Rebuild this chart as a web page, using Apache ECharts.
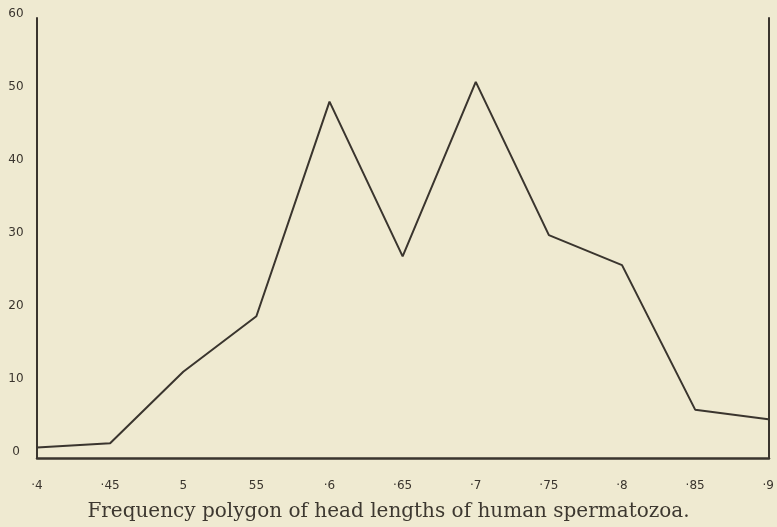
<!DOCTYPE html>
<html>
<head>
<meta charset="utf-8">
<script src="https://cdn.jsdelivr.net/npm/echarts@6/dist/echarts.min.js"></script>
<style>
  html, body { margin: 0; padding: 0; background: #efead1; }
  #chart { width: 777px; height: 527px; }
</style>
</head>
<body>
<div id="chart"></div>
<script>
// Head length classes (x) and frequency per class (y)
const headLengths = ['·4', '·45', '5', '55', '·6', '·65', '·7', '·75', '·8', '·85', '·9'];
const frequencies = [0.6, 1.2, 11, 18.6, 48, 26.8, 50.7, 29.7, 25.6, 5.8, 4.5];
const yTicks = [0, 10, 20, 30, 40, 50, 60];
const caption = 'Frequency polygon of head lengths of human spermatozoa.';

const ink = '#3a352e';

const chart = echarts.init(document.getElementById('chart'), null, { renderer: 'canvas' });

chart.setOption({
  backgroundColor: '#efead1',
  animation: false,
  title: {
    text: caption,
    left: 'center',
    bottom: 0,
    textStyle: {
      fontFamily: 'DejaVu Serif',
      fontWeight: 'normal',
      fontSize: 20,
      color: '#3d3830'
    }
  },
  grid: [
    // plotting area: 0..60
    { left: 37, right: 8, top: 14, bottom: 75, containLabel: false },
    // open-topped frame drawn around the plot
    { left: 37, right: 8, top: 18, bottom: 69, containLabel: false }
  ],
  xAxis: [
    {
      gridIndex: 0,
      type: 'category',
      data: headLengths,
      boundaryGap: false,
      axisLine: { show: false },
      axisTick: { show: false },
      splitLine: { show: false },
      axisLabel: {
        margin: 28,
        fontFamily: 'DejaVu Sans',
        fontSize: 12,
        color: ink,
        interval: 0
      }
    },
    {
      gridIndex: 1,
      type: 'value',
      min: 0,
      max: 1,
      axisLine: { show: true, lineStyle: { color: ink, width: 2.5 } },
      axisTick: { show: false },
      axisLabel: { show: false },
      splitLine: { show: false }
    }
  ],
  yAxis: [
    {
      gridIndex: 0,
      type: 'value',
      min: yTicks[0],
      max: yTicks[yTicks.length - 1],
      interval: yTicks[1] - yTicks[0],
      axisLine: { show: false },
      axisTick: { show: false },
      splitLine: { show: false },
      axisLabel: {
        margin: 21,
        align: 'center',
        fontFamily: 'DejaVu Sans',
        fontSize: 12,
        color: ink
      }
    },
    {
      gridIndex: 1,
      type: 'value',
      position: 'left',
      min: 0,
      max: 1,
      axisLine: { show: true, lineStyle: { color: ink, width: 2 } },
      axisTick: { show: false },
      axisLabel: { show: false },
      splitLine: { show: false }
    },
    {
      gridIndex: 1,
      type: 'value',
      position: 'right',
      min: 0,
      max: 1,
      axisLine: { show: true, lineStyle: { color: ink, width: 2 } },
      axisTick: { show: false },
      axisLabel: { show: false },
      splitLine: { show: false }
    }
  ],
  series: [
    {
      type: 'line',
      xAxisIndex: 0,
      yAxisIndex: 0,
      data: frequencies,
      symbol: 'none',
      lineStyle: { color: ink, width: 2 },
      clip: false
    }
  ]
});
</script>
</body>
</html>
